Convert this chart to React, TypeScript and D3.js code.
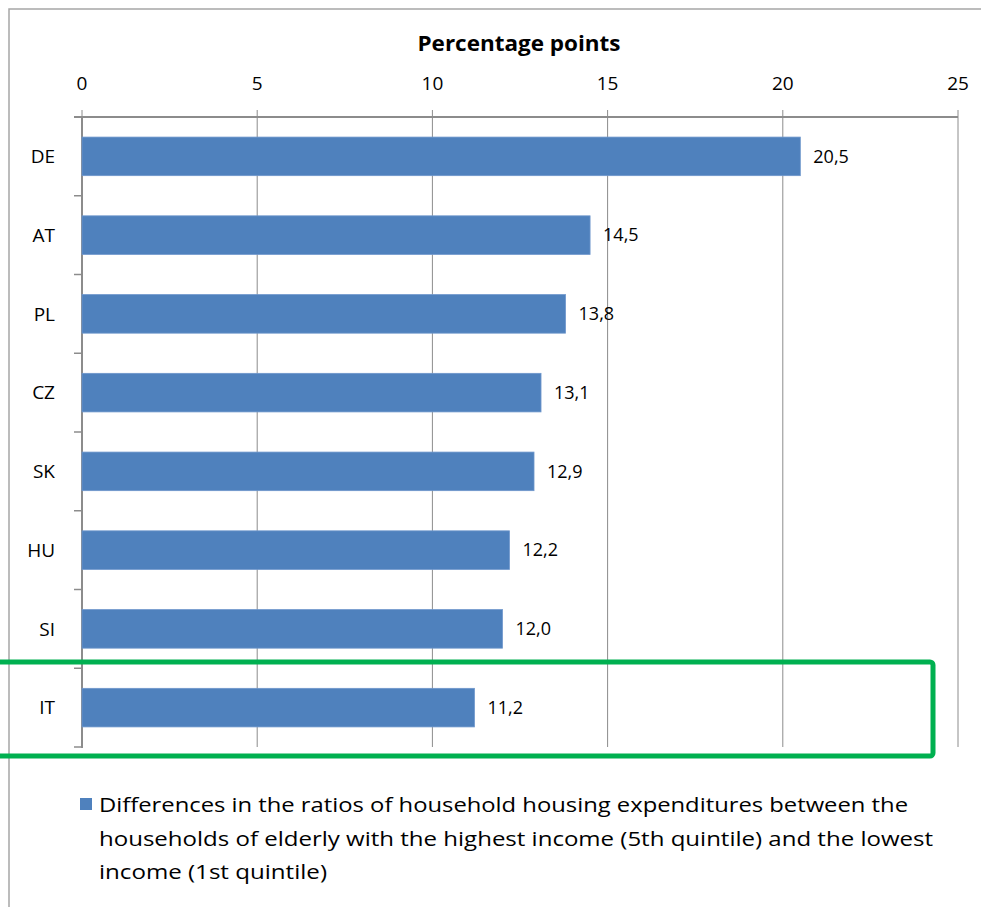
import React from 'react';
import * as d3 from 'd3';

const countries = ['DE', 'AT', 'PL', 'CZ', 'SK', 'HU', 'SI', 'IT'];
const values = [20.5, 14.5, 13.8, 13.1, 12.9, 12.2, 12.0, 11.2];
const ticks = [0, 5, 10, 15, 20, 25];
const legendLines = [
  'Differences in the ratios of household housing expenditures between the',
  'households of elderly with the highest income (5th quintile) and the lowest',
  'income (1st quintile)',
];

const W = 981;
const H = 907;
const font = '"Open Sans", "Noto Sans", sans-serif';
const barColor = '#4f81bd';
const gridColor = '#8c8c8c';

const App: React.FC = () => {
  const x = d3.scaleLinear().domain([0, 25]).range([82, 958]);
  const y = d3.scaleBand<string>().domain(countries).range([117, 747]).paddingInner(0.51).paddingOuter(0.255);
  const band = d3.scaleBand<string>().domain(countries).range([117, 747]);

  return (
    <svg width={W} height={H} style={{ position: 'absolute', left: 0, top: 0, background: '#fff' }}>
      {/* outer chart frame */}
      <rect x={9} y={9} width={1100} height={1100} fill="none" stroke="#a6a6a6" strokeWidth={1.5} />

      <text x={519} y={51} textAnchor="middle" fontFamily={font} fontWeight="bold" fontSize={21} fill="#000"
        textLength={203} lengthAdjust="spacingAndGlyphs">
        Percentage points
      </text>

      {/* gridlines and top axis */}
      {ticks.map((t) => (
        <g key={t}>
          <line x1={x(t)} x2={x(t)} y1={110} y2={747} stroke={gridColor} strokeWidth={1} />
          <text x={x(t)} y={90} textAnchor="middle" fontFamily={font} fontSize={19} fill="#000">
            {t}
          </text>
        </g>
      ))}
      <line x1={74} x2={958} y1={117} y2={117} stroke={gridColor} strokeWidth={2} />

      {/* left axis */}
      <line x1={82} x2={82} y1={117} y2={748} stroke={gridColor} strokeWidth={2} />
      {countries.map((c) => (
        <line key={'t' + c} x1={74} x2={82} y1={(band(c) as number) + band.bandwidth()} y2={(band(c) as number) + band.bandwidth()} stroke={gridColor} strokeWidth={1.5} />
      ))}

      {/* bars */}
      {countries.map((c, i) => (
        <g key={c}>
          <rect x={x(0)} y={y(c)} width={x(values[i]) - x(0)} height={y.bandwidth()} fill={barColor} stroke="#6f97cc" strokeWidth={0.8} />
          <text x={55} y={(band(c) as number) + band.bandwidth() / 2} dy="0.35em" textAnchor="end" fontFamily={font} fontSize={19} fill="#000">
            {c}
          </text>
          <text x={x(values[i]) + 13} y={(band(c) as number) + band.bandwidth() / 2} dy="0.35em" fontFamily={font} fontSize={18} fill="#000">
            {values[i].toFixed(1).replace('.', ',')}
          </text>
        </g>
      ))}

      {/* highlight box */}
      <rect x={-10} y={662} width={943} height={94} rx={3} fill="none" stroke="#00b050" strokeWidth={5} />

      {/* legend */}
      <rect x={80} y={798} width={12} height={12} fill={barColor} />
      {legendLines.map((l, i) => (
        <text key={i} x={99} y={812 + i * 33.5} fontFamily={font} fontSize={20} fill="#000"
          textLength={i === 0 ? 809 : i === 1 ? 834 : 228} lengthAdjust="spacingAndGlyphs">
          {l}
        </text>
      ))}
    </svg>
  );
};

export default App;
